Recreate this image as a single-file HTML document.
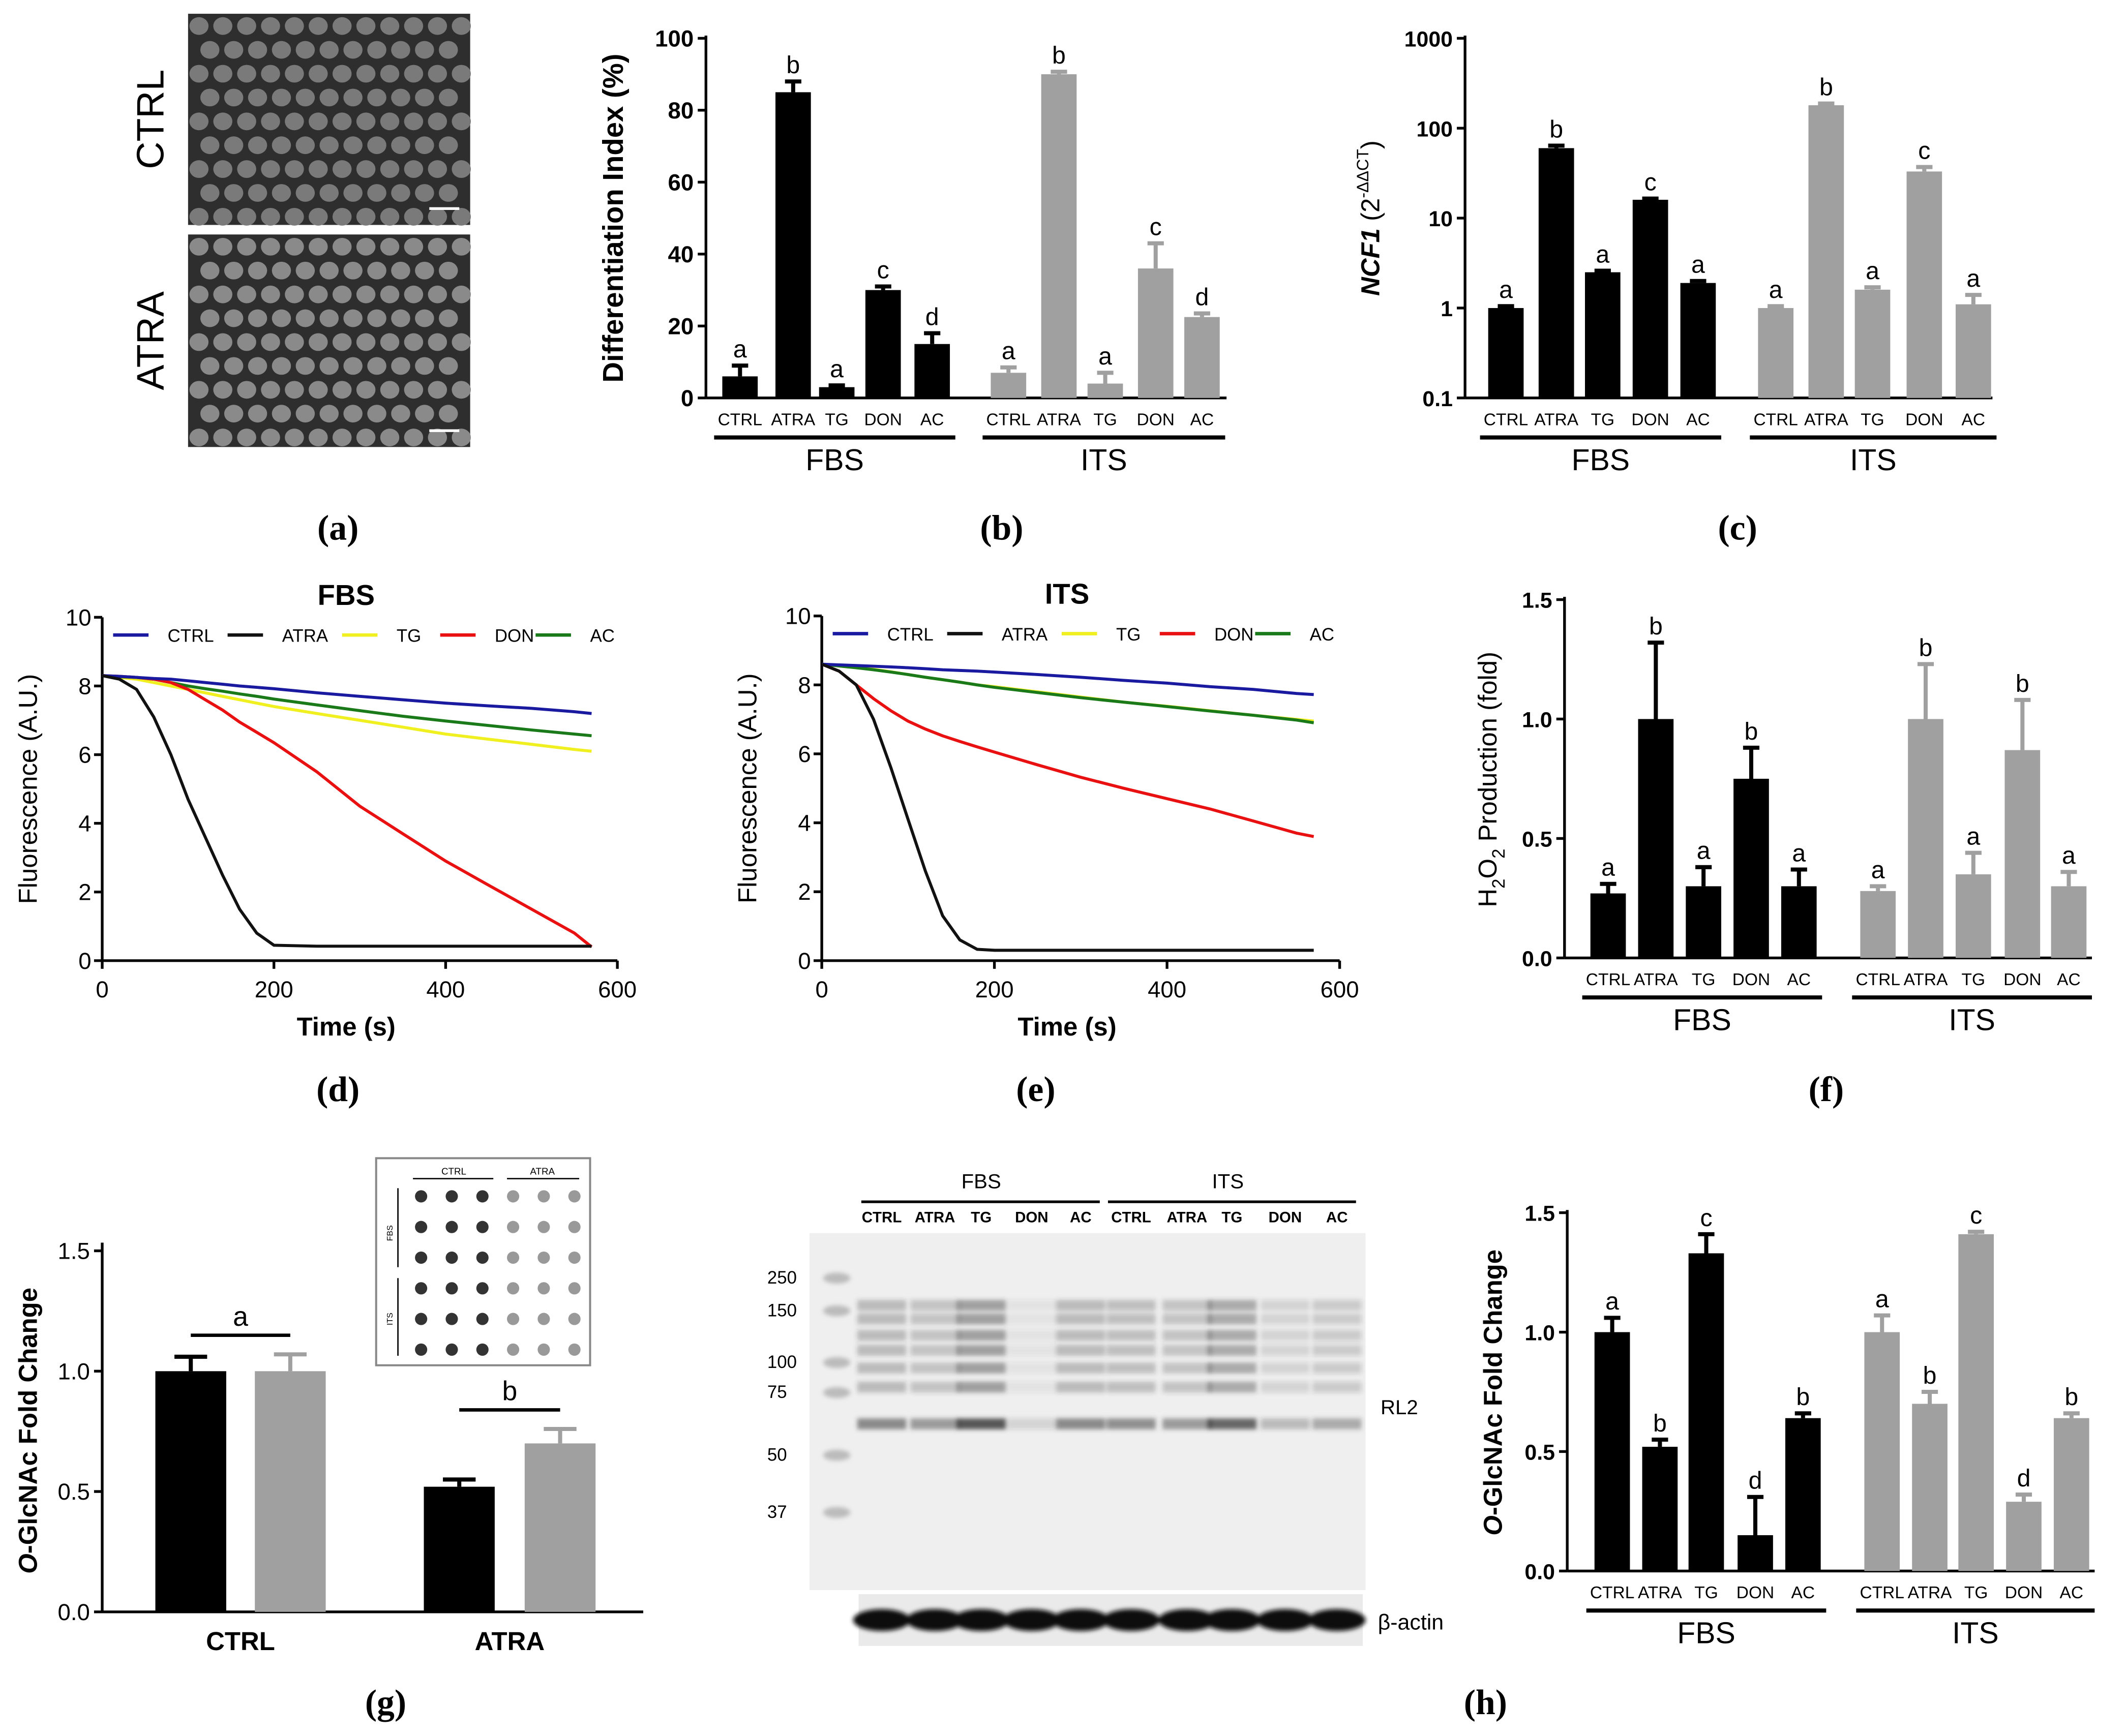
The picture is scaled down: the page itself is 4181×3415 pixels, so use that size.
<!DOCTYPE html>
<html><head><meta charset="utf-8"><style>
html,body{margin:0;padding:0;background:#fff}
svg{display:block}
text{font-family:"Liberation Sans",sans-serif}
.serif{font-family:"Liberation Serif",serif;font-weight:bold}
</style></head><body>
<svg id="fig" xmlns="http://www.w3.org/2000/svg" width="4181" height="3415" viewBox="0 0 1560 1274">
<defs><filter id="blur"><feGaussianBlur stdDeviation="1.6"/></filter></defs>
<rect width="1560" height="1274" fill="#fff"/>
<g id="root"></g>
</svg>
<script>
// ---------- DATA ----------
const barCats = ['CTRL','ATRA','TG','DON','AC'];
const bFbs = [6,85,3,30,15];
const bFbsErr = [3,3,0.5,1,3];
const bIts = [7,90,4,36,22.5];
const bItsErr = [1.5,0.7,3,7,1];
const bFbsLet = ['a','b','a','c','d'];
const bItsLet = ['a','b','a','c','d'];
const bTicks = [0,20,40,60,80,100];

const cFbs = [1,60,2.5,16,1.9];
const cFbsErr = [0.05,4,0.1,0.5,0.1];
const cIts = [1,180,1.6,33,1.1];
const cItsErr = [0.05,8,0.1,4,0.3];
const cFbsLet = ['a','b','a','c','a'];
const cItsLet = ['a','b','a','c','a'];
const cTicks = [0.1,1,10,100,1000];

const fFbs = [0.27,1.0,0.3,0.75,0.3];
const fFbsErr = [0.04,0.32,0.08,0.13,0.07];
const fIts = [0.28,1.0,0.35,0.87,0.3];
const fItsErr = [0.02,0.23,0.09,0.21,0.06];
const fFbsLet = ['a','b','a','b','a'];
const fItsLet = ['a','b','a','b','a'];
const fTicks = [0,0.5,1.0,1.5];

const hFbs = [1.0,0.52,1.33,0.15,0.64];
const hFbsErr = [0.06,0.03,0.08,0.16,0.02];
const hIts = [1.0,0.7,1.41,0.29,0.64];
const hItsErr = [0.07,0.05,0.01,0.03,0.02];
const hFbsLet = ['a','b','c','d','b'];
const hItsLet = ['a','b','c','d','b'];

const gCats = ['CTRL','ATRA'];
const gFbs = [1.0,0.52];
const gFbsErr = [0.06,0.03];
const gIts = [1.0,0.7];
const gItsErr = [0.07,0.06];
const gLet = ['a','b'];

const lineTimes = [0,20,40,60,80,100,120,140,160,180,200,250,300,350,400,450,500,550,570];
const dCtrl = [8.3,8.28,8.25,8.22,8.2,8.15,8.1,8.05,8.0,7.96,7.92,7.8,7.7,7.6,7.5,7.42,7.35,7.25,7.2];
const dAtra = [8.3,8.2,7.9,7.1,6.0,4.7,3.6,2.5,1.5,0.8,0.45,0.42,0.42,0.42,0.42,0.42,0.42,0.42,0.42];
const dTg = [8.3,8.25,8.2,8.1,8.0,7.9,7.8,7.7,7.6,7.5,7.4,7.2,7.0,6.8,6.6,6.45,6.3,6.15,6.1];
const dDon = [8.3,8.28,8.25,8.2,8.1,7.9,7.6,7.3,6.95,6.65,6.35,5.5,4.5,3.7,2.9,2.2,1.5,0.8,0.4];
const dAc = [8.3,8.27,8.25,8.2,8.1,8.0,7.92,7.85,7.77,7.7,7.62,7.45,7.28,7.12,6.98,6.85,6.72,6.6,6.55];
const eCtrl = [8.6,8.58,8.56,8.54,8.52,8.5,8.47,8.44,8.42,8.4,8.37,8.3,8.22,8.13,8.05,7.95,7.87,7.75,7.72];
const eAtra = [8.6,8.4,8.0,7.0,5.6,4.1,2.6,1.3,0.6,0.33,0.3,0.3,0.3,0.3,0.3,0.3,0.3,0.3,0.3];
const eTg = [8.6,8.55,8.5,8.45,8.38,8.3,8.22,8.15,8.08,8.0,7.95,7.8,7.65,7.5,7.38,7.25,7.12,7.0,6.95];
const eDon = [8.6,8.4,8.0,7.6,7.25,6.95,6.72,6.52,6.36,6.2,6.05,5.68,5.32,5.0,4.7,4.4,4.05,3.7,3.6];
const eAc = [8.6,8.55,8.5,8.44,8.37,8.3,8.22,8.15,8.08,8.0,7.93,7.78,7.63,7.5,7.37,7.24,7.12,6.98,6.9];
const lineNames = ['CTRL','ATRA','TG','DON','AC'];
const lineColors = ['#1a1aa0','#111','#f0f020','#e81010','#1a7a1a'];

// ---------- helpers ----------
const NS='http://www.w3.org/2000/svg';
const root=document.getElementById('root');
function el(tag,attrs,parent,txt){const e=document.createElementNS(NS,tag);for(const k in attrs)e.setAttribute(k,attrs[k]);if(txt!==undefined)e.textContent=txt;(parent||root).appendChild(e);return e;}
function grp(name){const g=el('g',{});


return g;}

function barPanel(o){
  const g=grp(o.name);
  const y=o.scale;
  el('line',{x1:o.ax,y1:o.yTop-2,x2:o.ax,y2:o.y0,stroke:'#000','stroke-width':2},g);
  el('line',{x1:o.ax,y1:o.y0,x2:o.xEnd,y2:o.y0,stroke:'#000','stroke-width':2},g);
  o.ticks.forEach(t=>{const yy=y(t);
    el('line',{x1:o.ax-6,y1:yy,x2:o.ax,y2:yy,stroke:'#000','stroke-width':2},g);
    const tx=el('text',{x:o.ax-9,y:yy+6,'text-anchor':'end','font-size':o.tfs||17,'font-weight':'bold'},g,o.tfmt?o.tfmt(t):String(t));
    
    
  });
  [[o.fbs,o.fbsErr,o.fbsLet,o.fx,'#000','FBS'],[o.its,o.itsErr,o.itsLet,o.ix,'#a0a0a0','ITS']].forEach(([vals,errs,lets,xs,col,gname])=>{
    vals.forEach((v,i)=>{
      const cx=xs[i], top=y(v), et=y(v+errs[i]);
      const r=el('rect',{x:cx-o.bw/2,y:top,width:o.bw,height:o.y0-top,fill:col},g);
      
      
      el('line',{x1:cx,y1:top,x2:cx,y2:et,stroke:col,'stroke-width':3},g);
      el('line',{x1:cx-6,y1:et,x2:cx+6,y2:et,stroke:col,'stroke-width':3},g);
      const lt=el('text',{x:cx,y:et-6,'text-anchor':'middle','font-size':18},g,lets[i]);
      
      
      const cl=el('text',{x:cx,y:o.y0+20,'text-anchor':'middle','font-size':12.5},g,barCats[i]);
      
      
    });
    const x1=xs[0]-o.bw/2-6,x2=xs[4]+o.bw/2+4;
    el('line',{x1:x1,y1:o.y0+29,x2:x2,y2:o.y0+29,stroke:'#000','stroke-width':3},g);
    const gl=el('text',{x:(x1+x2)/2,y:o.y0+53,'text-anchor':'middle','font-size':22},g,gname);
    
    
  });
  return g;
}
function linScale(y0,yTop,max){return v=>y0-(v/max)*(y0-yTop);}

// ---------- panel a ----------
(function(){
  const g=grp('panel-a-micrographs');
  [[138,10,207,155,'CTRL'],[138,172,207,156,'ATRA']].forEach(([x,y,w,h,lab],k)=>{
    el('rect',{x:x,y:y,width:w,height:h,fill:'#2e2e2e'},g);
    for(let r=0;r<9;r++)for(let c=0;c<12;c++){
      const cx=x+8+c*17.5+(r%2)*8, cy=y+9+r*17.5;
      if(cx>x+w-4||cy>y+h-4)continue;
      el('ellipse',{cx:cx,cy:cy,rx:7,ry:6.5,fill:k?'#8a8a8a':'#7a7a7a'},g);
    }
    el('line',{x1:x+w-30,y1:y+h-12,x2:x+w-8,y2:y+h-12,stroke:'#fff','stroke-width':2},g);
    const t=el('text',{x:0,y:0,'text-anchor':'middle','font-size':28,transform:`translate(${x-18},${y+h/2}) rotate(-90)`},g,lab);
    
    
  });
})();

// ---------- panel b ----------
barPanel({name:'panel-b-differentiation-chart',ax:518,xEnd:900,y0:292,yTop:28,scale:linScale(292,28,100),ticks:bTicks,bw:26,
  fx:[543,582,614,648,684],ix:[740,777,811,848,882],fbs:bFbs,fbsErr:bFbsErr,fbsLet:bFbsLet,its:bIts,itsErr:bItsErr,itsLet:bItsLet});
(function(){const t=el('text',{'text-anchor':'middle','font-size':21,'font-weight':'bold',transform:'translate(457,160) rotate(-90)'},root,'Differentiation Index (%)');
})();

// ---------- panel c ----------
const logY=v=>292-(Math.log10(v)+1)*66;
barPanel({name:'panel-c-ncf1-chart',ax:1075,xEnd:1462,y0:292,yTop:28,scale:logY,ticks:cTicks,bw:26,tfs:16,
  fx:[1105,1142,1176,1211,1246],ix:[1303,1340,1374,1412,1448],fbs:cFbs,fbsErr:cFbsErr,fbsLet:cFbsLet,its:cIts,itsErr:cItsErr,itsLet:cItsLet});
(function(){const t=el('text',{'text-anchor':'middle','font-size':19,'font-weight':'bold','font-style':'italic',transform:'translate(1012,160) rotate(-90)'},root);

el('tspan',{},t,'NCF1');el('tspan',{'font-style':'normal','font-weight':'normal'},t,' (2');el('tspan',{'font-size':12,dy:-8,'font-style':'normal','font-weight':'normal'},t,'-ΔΔCT');el('tspan',{dy:8,'font-style':'normal','font-weight':'normal'},t,')');})();

// ---------- panels d, e ----------
function linePanel(name,title,ax,xr,y0,yTop,series){
  const g=grp(name);
  const X=t=>ax+t/600*(xr-ax), Y=v=>y0-v/10*(y0-yTop);
  el('line',{x1:ax,y1:yTop,x2:ax,y2:y0,stroke:'#000','stroke-width':2},g);
  el('line',{x1:ax,y1:y0,x2:xr,y2:y0,stroke:'#000','stroke-width':2},g);
  [0,2,4,6,8,10].forEach(v=>{el('line',{x1:ax-6,y1:Y(v),x2:ax,y2:Y(v),stroke:'#000','stroke-width':2},g);
    const t=el('text',{x:ax-8,y:Y(v)+6,'text-anchor':'end','font-size':17},g,String(v));});
  [0,200,400,600].forEach(v=>{el('line',{x1:X(v),y1:y0,x2:X(v),y2:y0+6,stroke:'#000','stroke-width':2},g);
    const t=el('text',{x:X(v),y:y0+27,'text-anchor':'middle','font-size':17},g,String(v));});
  const tt=el('text',{x:(ax+xr)/2-10,y:yTop-9,'text-anchor':'middle','font-size':21,'font-weight':'bold'},g,title);
  
  const xt=el('text',{x:(ax+xr)/2-10,y:y0+55,'text-anchor':'middle','font-size':19,'font-weight':'bold'},g,'Time (s)');
  
  const yt=el('text',{'text-anchor':'middle','font-size':19,transform:`translate(${ax-48},${(y0+yTop)/2}) rotate(-90)`},g,'Fluorescence (A.U.)');
  
  const order=[2,4,3,0,1];
  order.forEach(i=>{const d=series[i].map((v,k)=>(k?'L':'M')+X(lineTimes[k]).toFixed(1)+','+Y(v).toFixed(1)).join('');
    const p=el('path',{d:d,fill:'none',stroke:lineColors[i],'stroke-width':2.2},g);
    });
  const lx=[ax+8,ax+92,ax+176,ax+248,ax+318];
  lineNames.forEach((n,i)=>{el('line',{x1:lx[i],y1:yTop+13,x2:lx[i]+26,y2:yTop+13,stroke:lineColors[i],'stroke-width':2.5},g);
    const t=el('text',{x:lx[i]+40,y:yTop+18,'font-size':13},g,n);});
}
linePanel('panel-d-fbs-fluorescence','FBS',75,453,705,453,[dCtrl,dAtra,dTg,dDon,dAc]);
linePanel('panel-e-its-fluorescence','ITS',603,983,705,452,[eCtrl,eAtra,eTg,eDon,eAc]);

// ---------- panel f ----------
barPanel({name:'panel-f-h2o2-chart',ax:1148,xEnd:1535,y0:703,yTop:440,scale:linScale(703,440,1.5),ticks:fTicks,bw:26,tfmt:v=>v.toFixed(1),tfs:16,
  fx:[1180,1215,1250,1285,1320],ix:[1378,1413,1448,1484,1518],fbs:fFbs,fbsErr:fFbsErr,fbsLet:fFbsLet,its:fIts,itsErr:fItsErr,itsLet:fItsLet});
(function(){const t=el('text',{'text-anchor':'middle','font-size':19,transform:'translate(1098,572) rotate(-90)'},root);

el('tspan',{},t,'H');el('tspan',{'font-size':13,dy:6},t,'2');el('tspan',{dy:-6},t,'O');el('tspan',{'font-size':13,dy:6},t,'2');el('tspan',{dy:-6},t,' Production (fold)');})();

// ---------- panel g ----------
(function(){
  const g=grp('panel-g-oglcnac-chart');
  const ax=75,y0=1183,Y=linScale(1183,918,1.5);
  el('line',{x1:ax,y1:912,x2:ax,y2:y0,stroke:'#000','stroke-width':2},g);
  el('line',{x1:ax,y1:y0,x2:472,y2:y0,stroke:'#000','stroke-width':2},g);
  fTicks.forEach(v=>{el('line',{x1:ax-6,y1:Y(v),x2:ax,y2:Y(v),stroke:'#000','stroke-width':2},g);
    const t=el('text',{x:ax-9,y:Y(v)+6,'text-anchor':'end','font-size':17},g,v.toFixed(1));});
  const fx=[140,337],ix=[213,411],bw=52;
  gCats.forEach((c,i)=>{
    [[gFbs,gFbsErr,fx,'#000'],[gIts,gItsErr,ix,'#a0a0a0']].forEach(([vals,errs,xs,col])=>{
      const cx=xs[i],top=Y(vals[i]),et=Y(vals[i]+errs[i]);
      const r=el('rect',{x:cx-bw/2,y:top,width:bw,height:y0-top,fill:col},g);
      
      el('line',{x1:cx,y1:top,x2:cx,y2:et,stroke:col,'stroke-width':3},g);
      el('line',{x1:cx-12,y1:et,x2:cx+12,y2:et,stroke:col,'stroke-width':3},g);
    });
    const by=Y(Math.max(gFbs[i]+gFbsErr[i],gIts[i]+gItsErr[i]))-14;
    el('line',{x1:fx[i],y1:by,x2:ix[i],y2:by,stroke:'#000','stroke-width':2.5},g);
    const lt=el('text',{x:(fx[i]+ix[i])/2,y:by-7,'text-anchor':'middle','font-size':20},g,gLet[i]);
    const cl=el('text',{x:(fx[i]+ix[i])/2,y:1211,'text-anchor':'middle','font-size':19,'font-weight':'bold'},g,c);
  });
  const yt=el('text',{'text-anchor':'middle','font-size':19,'font-weight':'bold',transform:'translate(27,1050) rotate(-90)'},g);
  
  el('tspan',{'font-style':'italic'},yt,'O');el('tspan',{},yt,'-GlcNAc Fold Change');
  // inset dot blot
  el('rect',{x:276,y:850,width:157,height:152,fill:'#fff',stroke:'#888','stroke-width':1.5},g);
  el('text',{x:333,y:862,'text-anchor':'middle','font-size':7},g,'CTRL');el('text',{x:398,y:862,'text-anchor':'middle','font-size':7},g,'ATRA');
  el('line',{x1:303,y1:865,x2:362,y2:865,stroke:'#000'},g);el('line',{x1:372,y1:865,x2:425,y2:865,stroke:'#000'},g);
  el('line',{x1:292,y1:872,x2:292,y2:930,stroke:'#000'},g);el('line',{x1:292,y1:938,x2:292,y2:995,stroke:'#000'},g);
  el('text',{'font-size':6,transform:'translate(288,905) rotate(-90)','text-anchor':'middle'},g,'FBS');
  el('text',{'font-size':6,transform:'translate(288,968) rotate(-90)','text-anchor':'middle'},g,'ITS');
  for(let r=0;r<6;r++)for(let c=0;c<6;c++){el('circle',{cx:309+c*22.5,cy:878+r*22.5,r:4.5,fill:c<3?'#333':'#999'},g);}
})();

// ---------- panel h blot ----------
(function(){
  const g=grp('panel-h-western-blot');
  el('rect',{x:594,y:905,width:408,height:262,fill:'#efefef'},g);
  el('rect',{x:630,y:1170,width:370,height:38,fill:'#eaeaea'},g);
  const bg=el('g',{filter:'url(#blur)'},g);
  const lanes=[647,686,720,757,793,830,871,904,943,981];
  const inten=[0.6,0.5,0.9,0.15,0.6,0.55,0.5,0.8,0.3,0.4];
  const bands=[958,968,980,991,1004,1018,1045];
  lanes.forEach((x,i)=>{bands.forEach((b,k)=>{const a=inten[i]*(k==6?0.9:0.45);el('rect',{x:x-18,y:b-4,width:36,height:8,fill:'#333','fill-opacity':a.toFixed(2)},bg);});
    el('ellipse',{cx:x,cy:1189,rx:21,ry:8,fill:'#111'},bg);});
  [[938,'250'],[962,'150'],[1000,'100'],[1022,'75'],[1068,'50'],[1110,'37']].forEach(([y,t])=>{el('ellipse',{cx:614,cy:y,rx:10,ry:4,fill:'#bbb'},bg);
    const m=el('text',{x:563,y:y+4,'font-size':13,'font-family':'Liberation Serif'},g,t);});
  const cats=['CTRL','ATRA','TG','DON','AC','CTRL','ATRA','TG','DON','AC'];
  lanes.forEach((x,i)=>{const t=el('text',{x:x,y:897,'text-anchor':'middle','font-size':11,'font-weight':'bold'},g,cats[i]);});
  el('line',{x1:632,y1:882,x2:807,y2:882,stroke:'#000','stroke-width':2},g);el('line',{x1:813,y1:882,x2:995,y2:882,stroke:'#000','stroke-width':2},g);
  el('text',{x:720,y:872,'text-anchor':'middle','font-size':15},g,'FBS');el('text',{x:901,y:872,'text-anchor':'middle','font-size':15},g,'ITS');
  el('text',{x:1013,y:1038,'font-size':15},g,'RL2');el('text',{x:1011,y:1196,'font-size':16},g,'β-actin');
})();

// ---------- panel h chart ----------
barPanel({name:'panel-h-oglcnac-chart',ax:1150,xEnd:1537,y0:1153,yTop:890,scale:linScale(1153,890,1.5),ticks:fTicks,bw:26,tfmt:v=>v.toFixed(1),tfs:16,
  fx:[1183,1218,1252,1288,1323],ix:[1381,1416,1450,1485,1520],fbs:hFbs,fbsErr:hFbsErr,fbsLet:hFbsLet,its:hIts,itsErr:hItsErr,itsLet:hItsLet});
(function(){const t=el('text',{'text-anchor':'middle','font-size':19,'font-weight':'bold',transform:'translate(1102,1022) rotate(-90)'},root);

el('tspan',{'font-style':'italic'},t,'O');el('tspan',{},t,'-GlcNAc Fold Change');})();

// ---------- panel letters ----------
[['(a)',248,396],['(b)',735,396],['(c)',1275,396],['(d)',248,808],['(e)',760,808],['(f)',1340,808],['(g)',283,1258],['(h)',1090,1258]].forEach(([t,x,y])=>{
  const e=el('text',{x:x,y:y,'text-anchor':'middle','font-size':26,class:'serif'},root,t);
  
  
});
</script>
</body></html>
